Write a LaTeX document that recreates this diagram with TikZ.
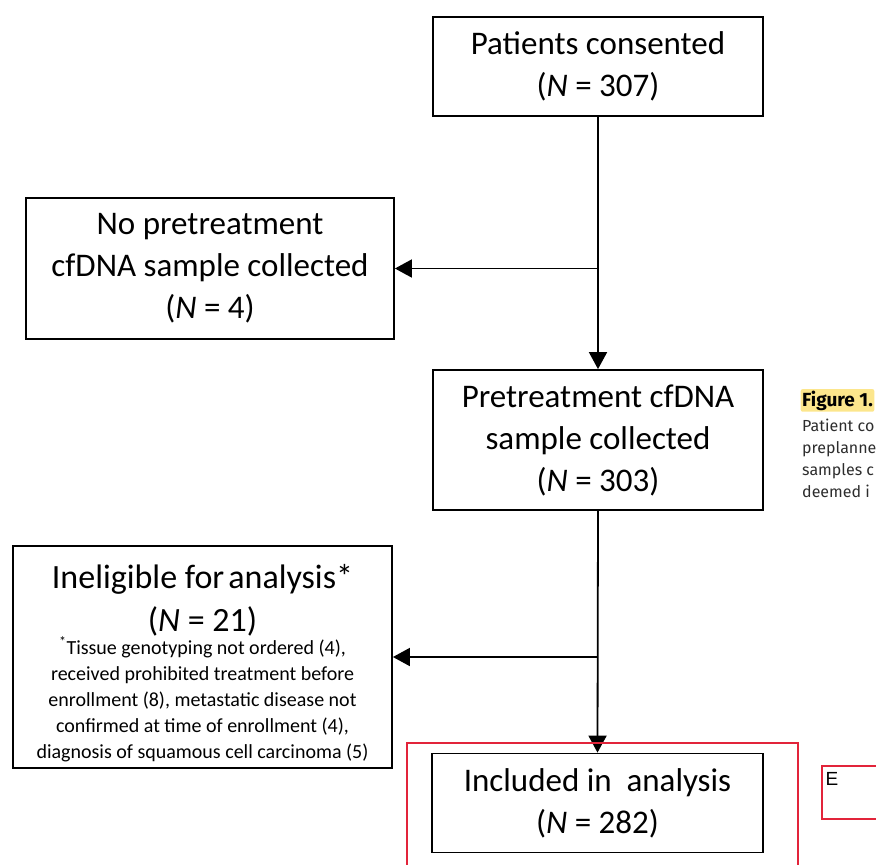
\documentclass[tikz,border=0pt]{standalone}
\usepackage{fontspec}
\setmainfont{Carlito}
\newfontfamily\capfont{Fira Sans}
\newfontfamily\arialfont{Liberation Sans}
\usetikzlibrary{arrows.meta}
\definecolor{frameRed}{RGB}{226,36,58}
\definecolor{hiYellow}{RGB}{252,230,140}
\definecolor{capGray}{RGB}{45,45,45}
\tikzset{
  flowbox/.style={draw=black, line width=1.8pt, rectangle, inner sep=0pt, align=center,
     font=\fontsize{33}{42}\selectfont},
  flowtext/.style={inner sep=0pt, align=center},
  flowarrow/.style={line width=1.8pt, -{Triangle[length=17pt,width=18pt]}},
  redframe/.style={draw=frameRed, line width=2pt},
  captext/.style={anchor=base west, inner sep=0pt, text=capGray, font=\capfont\fontsize{16}{20}\selectfont}
}
\begin{document}
\begin{tikzpicture}[x=1pt,y=-1pt]
\useasboundingbox (0,0) rectangle (876,865);
\clip (0,0) rectangle (876,865);

% boxes
\node[flowbox, minimum width=330pt, minimum height=99pt] (consented) at (598,66.5)
  {Patients consented\\(\textit{N} = 307)};
\node[flowbox, minimum width=368pt, minimum height=141pt] (nosample) at (210,268.5)
  {No pretreatment\\cfDNA sample collected\\(\textit{N} = 4)};
\node[flowbox, minimum width=330pt, minimum height=140pt] (collected) at (598,440)
  {Pretreatment cfDNA\\sample collected\\(\textit{N} = 303)};
\node[flowbox, minimum width=379pt, minimum height=222pt] (inelig) at (202.5,657) {};
\node[flowtext, font=\fontsize{34}{43}\selectfont] (ineligHead) at (202.5,600)
  {Ineligible for\hspace{0.12em}analysis*\\(\textit{N} = 21)};
\node[flowtext, font=\fontsize{20}{26}\selectfont] (ineligNote) at (202.5,699)
  {\textsuperscript{*}Tissue genotyping not ordered (4),\\
   received prohibited treatment before\\
   enrollment (8), metastatic disease not\\
   confirmed at time of enrollment (4),\\
   diagnosis of squamous cell carcinoma (5)};
\node[flowbox, minimum width=331pt, minimum height=99pt] (included) at (597.5,803)
  {Included in\hspace{0.45em}analysis\\(\textit{N} = 282)};

% connectors
\coordinate (split1) at (consented.south |- nosample.east);
\coordinate (split2) at (collected.south |- inelig.east);
\draw[flowarrow] (consented.south) -- (collected.north);
\draw[flowarrow] (split1) -- (nosample.east);
\draw[flowarrow] (collected.south) -- (included.north);
\draw[flowarrow] (split2) -- (inelig.east);

% red frames
\draw[redframe] (407,743) rectangle (798,880);
\node[redframe, minimum width=62pt, minimum height=53pt, inner sep=0pt, anchor=north west] (ebox) at (821,765) {};
\node[anchor=north west, inner sep=0pt, font=\arialfont\fontsize{19}{22}\selectfont] (elabel) at (825.5,772) {E};

% caption fragment
\node[anchor=base west, inner sep=1.5pt, fill=hiYellow, font=\capfont\bfseries\fontsize{19}{22}\selectfont, rounded corners=2pt] (figlabel) at (800.5,406) {Figure 1.};
\node[captext] (cap1) at (802,431) {Patient co};
\node[captext] (cap2) at (802,453) {preplanne};
\node[captext] (cap3) at (802,475) {samples c};
\node[captext] (cap4) at (802,497) {deemed i};
\end{tikzpicture}
\end{document}
